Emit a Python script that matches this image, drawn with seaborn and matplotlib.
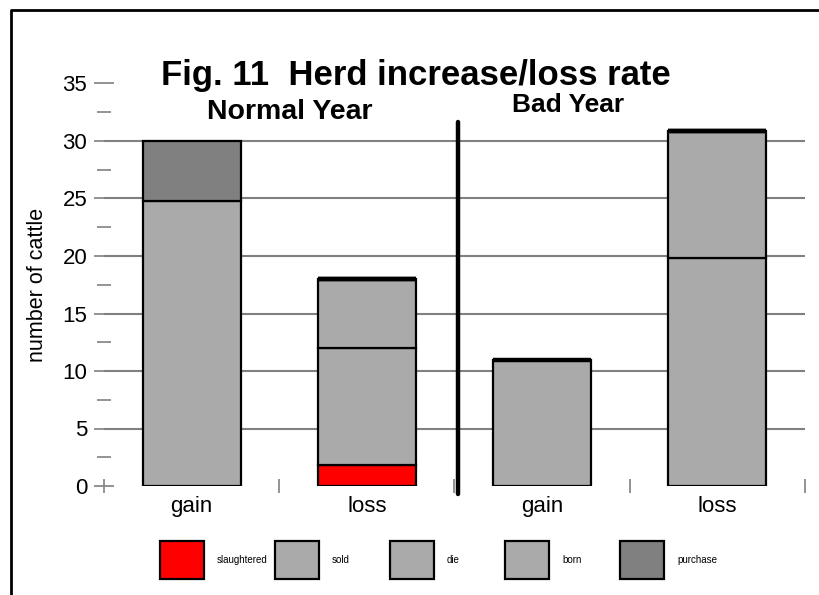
import numpy as np
import pandas as pd
import matplotlib
matplotlib.use("Agg")
import matplotlib.pyplot as plt
from matplotlib.patches import Rectangle
from matplotlib.lines import Line2D
from matplotlib.ticker import MultipleLocator, FixedLocator
import seaborn as sns

# data
bars = ["Normal gain", "Normal loss", "Bad gain", "Bad loss"]
tick_labels = ["gain", "loss", "gain", "loss"]
components = ["slaughtered", "sold", "die", "born", "purchase"]
comp_colors = ["#FF0000", "#AAAAAA", "#AAAAAA", "#AAAAAA", "#808080"]
slaughtered = [0, 1.8, 0, 0]
sold = [0, 10.2, 0, 19.8]
die = [0, 6.0, 0, 11.1]
born = [24.8, 0, 11.0, 0]
purchase = [5.2, 0, 0, 0]

df = pd.DataFrame({"bar": bars, "slaughtered": slaughtered, "sold": sold,
                   "die": die, "born": born, "purchase": purchase})

sns.set_style("white")
plt.rcParams["font.family"] = ["Liberation Sans", "DejaVu Sans"]
plt.rcParams["text.color"] = "black"
plt.rcParams["axes.labelcolor"] = "black"
plt.rcParams["xtick.labelcolor"] = "black"
plt.rcParams["ytick.labelcolor"] = "black"

fig = plt.figure(figsize=(8.2, 5.95), dpi=100)
ax = fig.add_axes([104 / 820, 109 / 595, 701 / 820, 402.5 / 595])

bottom = np.zeros(len(bars))
for comp, col in zip(components, comp_colors):
    sns.barplot(data=df, x="bar", y=comp, order=bars, bottom=bottom, color=col,
                saturation=1, width=0.56, edgecolor="black", linewidth=1.6,
                errorbar=None, ax=ax, zorder=3)
    bottom = bottom + df[comp].values

# empty segments on top of a bar show as a heavier top edge
for p in ax.patches:
    if p.get_height() == 0 and p.get_y() > 0:
        p.set_linewidth(3.2)

ax.set_xlim(-0.5, 3.5)
ax.set_ylim(0, 35)
for s in ax.spines.values():
    s.set_visible(False)

ax.yaxis.set_major_locator(MultipleLocator(5))
ax.yaxis.set_minor_locator(MultipleLocator(2.5))
ax.xaxis.set_minor_locator(FixedLocator(np.arange(-0.5, len(bars), 1.0)))
ax.set_xticks(range(len(bars)))
ax.set_xticklabels(tick_labels)

ax.tick_params(axis="y", which="major", direction="inout", length=14, width=1.2,
               color="#808080", labelsize=16, pad=5, left=True)
ax.tick_params(axis="y", which="minor", direction="inout", length=9.5, width=1.2,
               color="#808080", left=True)
ax.tick_params(axis="x", which="major", length=0, labelsize=16, pad=7)
ax.tick_params(axis="x", which="minor", direction="inout", length=10, width=1.2,
               color="#808080", bottom=True)

# horizontal rules between the end ticks only
ax.grid(False)
grid_vals = np.arange(5, 35, 5)
ax.hlines(grid_vals, -0.5, 3.5, color="#808080", linewidth=1.5, zorder=0)

ax.set_xlabel("")
ax.set_ylabel("number of cattle", fontsize=15.5)
ax.yaxis.set_label_coords(-0.08, 0.5)

# divider between the two years
ax.axvline(1.52, ymin=-0.02, ymax=0.904, color="black", linewidth=3.2,
           clip_on=False, zorder=4, solid_capstyle="round")

ax.text(0.56, 32.5, "Normal Year", ha="center", va="center", fontsize=20.5,
        fontweight="bold")
ax.text(2.15, 33.1, "Bad Year", ha="center", va="center", fontsize=19,
        fontweight="bold")
fig.text(416 / 820, 1 - 75 / 595, "Fig. 11  Herd increase/loss rate",
         ha="center", va="center", fontsize=25, fontweight="bold")

# frame round the figure (left and top edges visible)
fig.add_artist(Line2D([11 / 820, 11 / 820, 1.0], [0.0, 1 - 10 / 595, 1 - 10 / 595],
                      transform=fig.transFigure, color="black", linewidth=2))

# legend row
for i, (comp, col) in enumerate(zip(components, comp_colors)):
    x0 = (160 + 115 * i) / 820
    fig.add_artist(Rectangle((x0, 1 - 579 / 595), 44 / 820, 38 / 595,
                             transform=fig.transFigure, facecolor=col,
                             edgecolor="black", linewidth=1.6))
    fig.text(x0 + 57 / 820, 1 - 560 / 595, comp, ha="left", va="center",
             fontsize=7)

fig.savefig("out.png", dpi=100)
